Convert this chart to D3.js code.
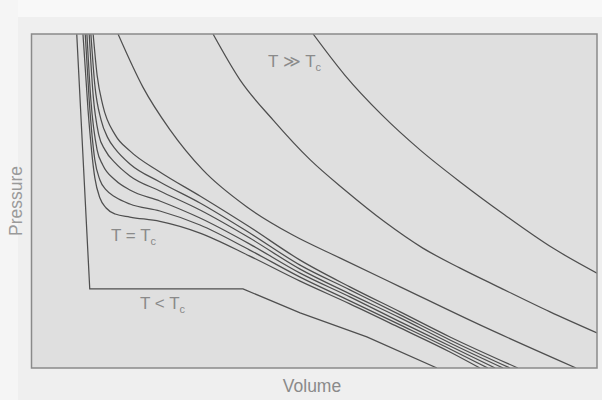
<!DOCTYPE html>
<html><head><meta charset="utf-8">
<script src="https://cdn.jsdelivr.net/npm/d3@7"></script>
<style>html,body{margin:0;padding:0;background:#efefef;}svg{display:block;}</style>
</head><body>
<svg id="chart" width="602" height="400"></svg>
<script>
// Isotherms: [volume, pressure] in arbitrary units (frame = 0..10 x 0..10)
const isothermBelowTc = [[0.80,10.0],[1.03,2.37],[3.74,2.37],[4.75,1.65],[5.93,0.93],[7.17,0]];
const isothermTc = [[0.91,10],[1.00,7.72],[1.12,5.69],[1.21,5.09],[1.32,4.79],[1.48,4.61],[1.74,4.52],[2.27,4.39],[2.98,4.04],[3.86,3.35],[4.75,2.60],[5.63,1.92],[6.52,1.20],[7.40,0.48],[7.93,0]];
const isothermNear2 = [[0.95,10],[1.02,8.02],[1.12,6.23],[1.21,5.63],[1.32,5.33],[1.48,5.12],[1.74,4.91],[2.27,4.70],[2.98,4.28],[3.86,3.53],[4.75,2.72],[5.63,2.01],[6.52,1.29],[7.40,0.57],[8.07,0]];
const isothermNear3 = [[0.98,10],[1.05,8.02],[1.16,6.53],[1.26,6.08],[1.48,5.63],[1.74,5.33],[2.27,5.00],[2.98,4.49],[3.86,3.71],[4.75,2.84],[5.63,2.13],[6.52,1.38],[7.40,0.66],[8.20,0]];
const isothermNear4 = [[1.02,10],[1.09,8.17],[1.19,6.98],[1.30,6.53],[1.48,6.14],[1.74,5.75],[2.27,5.30],[2.98,4.73],[3.86,3.89],[4.75,2.96],[5.63,2.22],[6.52,1.50],[7.40,0.75],[8.34,0]];
const isothermNear5 = [[1.05,10],[1.12,8.47],[1.23,7.43],[1.35,6.89],[1.48,6.56],[1.74,6.11],[2.27,5.57],[2.98,4.94],[3.86,4.04],[4.75,3.08],[5.63,2.34],[6.52,1.59],[7.40,0.84],[8.46,0]];
const isothermNear6 = [[1.09,10],[1.16,8.77],[1.26,7.87],[1.48,6.98],[1.74,6.50],[2.27,5.87],[2.98,5.15],[3.86,4.22],[4.75,3.23],[5.63,2.43],[6.52,1.68],[7.40,0.93],[8.60,0]];
const isothermHotA = [[1.53,10],[1.97,8.41],[2.45,7.13],[3.03,5.93],[3.81,4.82],[4.62,3.98],[5.46,3.29],[6.52,2.43],[7.93,1.29],[9.63,0]];
const isothermHotB = [[3.21,10],[3.69,8.62],[4.27,7.43],[4.93,6.23],[5.54,5.33],[6.25,4.37],[6.92,3.59],[7.58,2.99],[8.29,2.40],[9.17,1.68],[10,1.05]];
const isothermHotD = [[4.98,10],[5.54,8.77],[6.20,7.57],[6.87,6.53],[7.58,5.57],[8.37,4.58],[9.22,3.59],[10,2.84]];

const smoothCurves = [isothermTc, isothermNear2, isothermNear3, isothermNear4, isothermNear5, isothermNear6, isothermHotA, isothermHotB, isothermHotD];
const xTitle = "Volume";
const yTitle = "Pressure";

const svg = d3.select("#chart");
const L = 31.5, R = 597, T = 34, B = 368;
const x = d3.scaleLinear().domain([0,10]).range([L,R]);
const y = d3.scaleLinear().domain([0,10]).range([B,T]);

// scan-like backgrounds
svg.append("rect").attr("x",0).attr("y",0).attr("width",602).attr("height",400).attr("fill","#efefef");
svg.append("rect").attr("x",0).attr("y",0).attr("width",602).attr("height",17).attr("fill","#f8f8f8");
svg.append("rect").attr("x",0).attr("y",0).attr("width",18).attr("height",400).attr("fill","#f5f5f5");

svg.append("defs").append("clipPath").attr("id","clip")
  .append("rect").attr("x",L).attr("y",T).attr("width",R-L).attr("height",B-T);

svg.append("rect").attr("x",L).attr("y",T).attr("width",R-L).attr("height",B-T)
  .attr("fill","#dfdfdf");

const g = svg.append("g").attr("clip-path","url(#clip)");
const smooth = d3.line().x(d=>x(d[0])).y(d=>y(d[1])).curve(d3.curveMonotoneX);
const straight = d3.line().x(d=>x(d[0])).y(d=>y(d[1])).curve(d3.curveLinear);

g.selectAll("path.iso").data(smoothCurves).join("path")
  .attr("class","iso").attr("d",smooth)
  .attr("fill","none").attr("stroke","#4f4f4f").attr("stroke-width",1.25);
g.append("path").datum(isothermBelowTc).attr("d",straight)
  .attr("fill","none").attr("stroke","#4f4f4f").attr("stroke-width",1.25);

svg.append("rect").attr("x",L).attr("y",T).attr("width",R-L).attr("height",B-T)
  .attr("fill","none").attr("stroke","#8a8a8a").attr("stroke-width",1.5);

const font = "Liberation Sans, Arial, sans-serif";
function label(px, py, main, sub){
  const t = svg.append("text").attr("x",px).attr("y",py)
    .attr("font-family",font).attr("font-size",17).attr("fill","#8a8a8a");
  t.append("tspan").text(main);
  t.append("tspan").attr("font-size",11).attr("dy",4).text(sub);
}
label(268, 67, "T \u226B T", "c");
label(111, 241, "T = T", "c");
label(140, 309, "T < T", "c");

svg.append("text").attr("x",312).attr("y",392).attr("text-anchor","middle")
  .attr("font-family",font).attr("font-size",17.5).attr("fill","#8a8a8a").text(xTitle);
svg.append("text").attr("transform","translate(22,201) rotate(-90)").attr("text-anchor","middle")
  .attr("font-family",font).attr("font-size",17.5).attr("fill","#9a9a9a").text(yTitle);
</script>
</body></html>
